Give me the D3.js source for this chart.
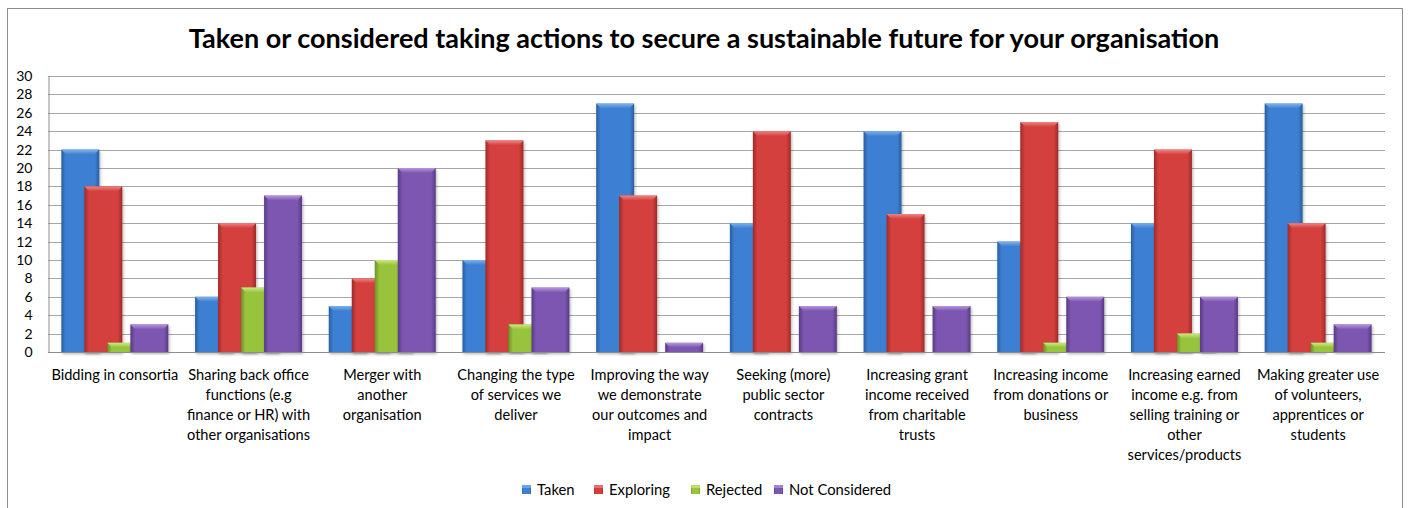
<!DOCTYPE html>
<html>
<head>
<meta charset="utf-8">
<script src="https://cdn.jsdelivr.net/npm/d3@7/dist/d3.min.js"></script>
<style>
  html, body { margin: 0; padding: 0; background: #fff; }
  svg { display: block; font-family: Lato, "Open Sans", sans-serif; }
</style>
</head>
<body>
<svg id="chart" width="1408" height="508"></svg>
<script>
// Survey results: actions taken or considered, by category
const categories = [
  ["Bidding in consortia"],
  ["Sharing back office", "functions (e.g", "finance or HR) with", "other organisations"],
  ["Merger with", "another", "organisation"],
  ["Changing the type", "of services we", "deliver"],
  ["Improving the way", "we demonstrate", "our outcomes and", "impact"],
  ["Seeking (more)", "public sector", "contracts"],
  ["Increasing grant", "income received", "from charitable", "trusts"],
  ["Increasing income", "from donations  or", "business"],
  ["Increasing earned", "income e.g. from", "selling training or", "other", "services/products"],
  ["Making greater use", "of volunteers,", "apprentices or", "students"]
];
const seriesNames = ["Taken", "Exploring", "Rejected", "Not Considered"];
const taken         = [22, 6, 5, 10, 27, 14, 24, 12, 14, 27];
const exploring     = [18, 14, 8, 23, 17, 24, 15, 25, 22, 14];
const rejected      = [1, 7, 10, 3, 0, 0, 0, 1, 2, 1];
const notConsidered = [3, 17, 20, 7, 1, 5, 5, 6, 6, 3];
const yTicks = [0, 2, 4, 6, 8, 10, 12, 14, 16, 18, 20, 22, 24, 26, 28, 30];
const title = "Taken or considered taking actions to secure a sustainable future for your organisation";

const seriesValues = [taken, exploring, rejected, notConsidered];
const colors = [
  { base: "#3d80d3", light: "#7fb2ec", dark: "#2a5e9f" },
  { base: "#d43f3c", light: "#ef8583", dark: "#9d2b29" },
  { base: "#98c43c", light: "#cde883", dark: "#6d9126" },
  { base: "#7c56b0", light: "#b598dd", dark: "#573a83" }
];

const svg = d3.select("#chart");
const margin = { left: 48, right: 1385, top: 76, bottom: 352 };

// Outer chart frame
svg.append("rect")
  .attr("x", 7.5).attr("y", 8.5)
  .attr("width", 1395).attr("height", 520)
  .attr("fill", "#fff").attr("stroke", "#8c8c8c").attr("stroke-width", 1);

svg.append("text")
  .attr("x", 704).attr("y", 48)
  .attr("text-anchor", "middle")
  .attr("font-weight", 700).attr("font-size", 27)
  .attr("fill", "#000")
  .text(title);

const x = d3.scaleBand()
  .domain(d3.range(categories.length))
  .range([margin.left, margin.right])
  .paddingInner(0.2).paddingOuter(0.1);

const y = d3.scaleLinear().domain([0, 30]).range([margin.bottom, margin.top]);

// Overlapping bars inside a group: step between bars vs bar width
const widthRatio = 1.65;
const barStep = x.bandwidth() / (seriesNames.length - 1 + widthRatio);
const barWidth = barStep * widthRatio;

// Gradients and shadow
const defs = svg.append("defs");
colors.forEach((c, i) => {
  const g = defs.append("linearGradient").attr("id", "grad" + i)
    .attr("x1", "0").attr("x2", "1").attr("y1", "0").attr("y2", "0");
  g.append("stop").attr("offset", "0").attr("stop-color", c.dark);
  g.append("stop").attr("offset", "0.12").attr("stop-color", c.base);
  g.append("stop").attr("offset", "0.88").attr("stop-color", c.base);
  g.append("stop").attr("offset", "1").attr("stop-color", c.dark);
  const t = defs.append("linearGradient").attr("id", "top" + i)
    .attr("x1", "0").attr("x2", "0").attr("y1", "0").attr("y2", "1");
  t.append("stop").attr("offset", "0").attr("stop-color", c.light);
  t.append("stop").attr("offset", "1").attr("stop-color", c.base);
});
const shadow = defs.append("filter").attr("id", "shadow")
  .attr("x", "-20%").attr("y", "-5%").attr("width", "140%").attr("height", "115%");
shadow.append("feDropShadow").attr("dx", 1).attr("dy", 2).attr("stdDeviation", 1.5)
  .attr("flood-color", "#000").attr("flood-opacity", 0.3);

// Gridlines
svg.append("g")
  .selectAll("line").data(yTicks).join("line")
  .attr("x1", margin.left).attr("x2", margin.right)
  .attr("y1", d => Math.round(y(d)) + 0.5).attr("y2", d => Math.round(y(d)) + 0.5)
  .attr("stroke", "#a6a6a6").attr("stroke-width", 1.2);

// Y axis
const yAxis = d3.axisLeft(y).tickValues(yTicks).tickSize(0).tickPadding(16);
const yg = svg.append("g").attr("transform", `translate(${margin.left + 0.5},0)`).call(yAxis);
yg.select(".domain").attr("stroke", "#8c8c8c");
yg.selectAll("text").attr("font-size", 14).attr("fill", "#000")
  .attr("font-family", "Lato, sans-serif");

// Bars
const barsG = svg.append("g");
seriesValues.forEach((vals, si) => {
  const g = barsG.append("g");
  vals.forEach((v, ci) => {
    if (v <= 0) return;
    const bx = x(ci) + si * barStep;
    const by = y(v);
    const h = y(0) - by;
    const b = Math.min(5, h / 2);
    const bar = g.append("g").attr("filter", "url(#shadow)");
    bar.append("rect")
      .attr("x", bx).attr("y", by).attr("width", barWidth).attr("height", h)
      .attr("fill", `url(#grad${si})`);
    // top bevel
    bar.append("polygon")
      .attr("points", [[bx, by], [bx + barWidth, by], [bx + barWidth - b, by + b], [bx + b, by + b]].join(" "))
      .attr("fill", `url(#top${si})`);
  });
});

// Axis baseline
svg.append("line")
  .attr("x1", margin.left).attr("x2", margin.right)
  .attr("y1", Math.round(y(0)) + 0.5).attr("y2", Math.round(y(0)) + 0.5)
  .attr("stroke", "#8c8c8c");

// Category labels
const xl = svg.append("g");
categories.forEach((lines, ci) => {
  const t = xl.append("text")
    .attr("x", x(ci) + x.bandwidth() / 2)
    .attr("y", 380)
    .attr("text-anchor", "middle")
    .attr("font-size", 14.6).attr("fill", "#000");
  lines.forEach((ln, li) => {
    t.append("tspan").attr("x", x(ci) + x.bandwidth() / 2).attr("dy", li === 0 ? 0 : 20).text(ln);
  });
});

// Legend
const legendX = [522, 594, 691, 774];
const lg = svg.append("g");
seriesNames.forEach((name, i) => {
  const item = lg.append("g").attr("transform", `translate(${legendX[i]},485)`);
  item.append("rect").attr("width", 9).attr("height", 9)
    .attr("fill", `url(#grad${i})`);
  item.append("rect").attr("width", 9).attr("height", 3)
    .attr("fill", colors[i].light).attr("opacity", 0.7);
  item.append("text").attr("x", 15).attr("y", 9.5)
    .attr("font-size", 14.8).attr("fill", "#000").text(name);
});
</script>
</body>
</html>
